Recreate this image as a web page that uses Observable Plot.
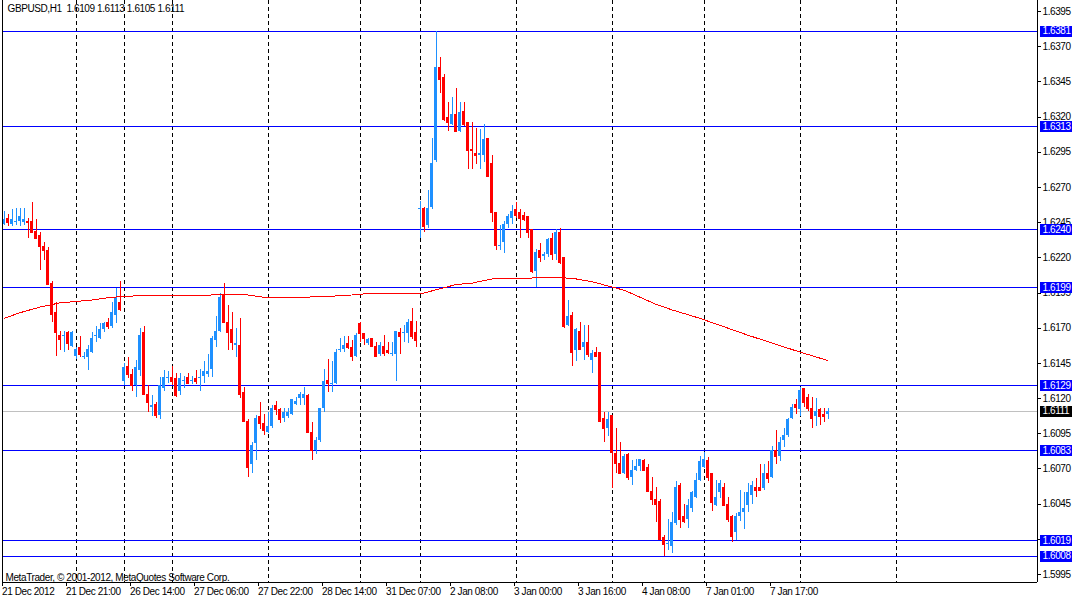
<!DOCTYPE html>
<html><head><meta charset="utf-8">
<script src="https://cdn.jsdelivr.net/npm/d3@7"></script>
<script src="https://cdn.jsdelivr.net/npm/@observablehq/plot@0.6"></script>
<style>
html,body{margin:0;padding:0;background:#fff;}
#chart{width:1075px;height:599px;overflow:hidden;}
</style></head><body><div id="chart"></div>
<script>
const symbolTitle = "GBPUSD,H1";
const opens = [1.6244,1.6248,1.6244,1.6245,1.6246,1.6245,1.6246,1.6246,1.6239,1.6236,
1.6228,1.6225,1.6202,1.6181,1.6165,1.6164,1.6167,1.6157,1.6150,1.6156,
1.6149,1.6149,1.6153,1.6164,1.6163,1.6169,1.6174,1.6171,1.6179,1.6188,
1.6132,1.6143,1.6137,1.6129,1.6140,1.6167,1.6123,1.6114,1.6116,1.6108,
1.6127,1.6134,1.6135,1.6134,1.6125,1.6132,1.6135,1.6132,1.6134,1.6134,
1.6136,1.6137,1.6141,1.6161,1.6168,1.6193,1.6174,1.6169,1.6158,1.6158,
1.6124,1.6104,1.6073,1.6088,1.6107,1.6102,1.6096,1.6100,1.6115,1.6112,
1.6106,1.6107,1.6109,1.6116,1.6120,1.6120,1.6122,1.6096,1.6083,1.6090,
1.6113,1.6133,1.6130,1.6131,1.6154,1.6155,1.6159,1.6156,1.6150,1.6173,
1.6166,1.6159,1.6163,1.6157,1.6151,1.6157,1.6154,1.6151,1.6151,1.6167,
1.6166,1.6166,1.6175,1.6167,1.6254,1.6255,1.6243,1.6256,1.6289,1.6355,
1.6348,1.6320,1.6315,1.6322,1.6310,1.6324,1.6316,1.6297,1.6294,1.6293,
1.6293,1.6305,1.6287,1.6252,1.6228,1.6231,1.6244,1.6248,1.6254,1.6252,
1.6250,1.6249,1.6240,1.6210,1.6225,1.6221,1.6222,1.6234,1.6222,1.6238,
1.6220,1.6172,1.6179,1.6154,1.6168,1.6156,1.6160,1.6147,1.6153,1.6153,
1.6106,1.6099,1.6108,1.6081,1.6074,1.6067,1.6080,1.6064,1.6069,1.6072,
1.6076,1.6071,1.6054,1.6048,1.6047,1.6021,1.6016,1.6015,1.6031,1.6058,
1.6036,1.6034,1.6042,1.6050,1.6062,1.6071,1.6076,1.6067,1.6044,1.6053,
1.6057,1.6045,1.6036,1.6025,1.6036,1.6039,1.6044,1.6051,1.6057,1.6057,
1.6056,1.6067,1.6064,1.6083,1.6079,1.6090,1.6094,1.6106,1.6116,1.6112,
1.6127,1.6121,1.6113,1.6107,1.6112,1.6109,1.6109];
const highs = [1.6253,1.6251,1.6254,1.6255,1.6255,1.6255,1.6248,1.6259,1.6247,1.6238,
1.6231,1.6227,1.6203,1.6188,1.6168,1.6168,1.6168,1.6168,1.6156,1.6164,
1.6153,1.6158,1.6167,1.6171,1.6173,1.6174,1.6177,1.6188,1.6198,1.6203,
1.6145,1.6149,1.6141,1.6147,1.6170,1.6171,1.6129,1.6122,1.6117,1.6135,
1.6140,1.6139,1.6143,1.6138,1.6138,1.6136,1.6138,1.6136,1.6140,1.6141,
1.6146,1.6151,1.6164,1.6178,1.6195,1.6202,1.6186,1.6181,1.6170,1.6177,
1.6128,1.6105,1.6089,1.6108,1.6117,1.6109,1.6110,1.6115,1.6118,1.6113,
1.6113,1.6113,1.6119,1.6121,1.6124,1.6128,1.6123,1.6103,1.6092,1.6113,
1.6141,1.6148,1.6146,1.6155,1.6163,1.6164,1.6164,1.6161,1.6166,1.6174,
1.6166,1.6163,1.6163,1.6160,1.6160,1.6165,1.6160,1.6160,1.6168,1.6170,
1.6172,1.6176,1.6184,1.6175,1.6260,1.6256,1.6268,1.6305,1.6381,1.6362,
1.6350,1.6330,1.6334,1.6340,1.6330,1.6330,1.6316,1.6316,1.6312,1.6311,
1.6315,1.6305,1.6293,1.6252,1.6243,1.6246,1.6251,1.6257,1.6259,1.6254,
1.6252,1.6249,1.6240,1.6226,1.6230,1.6224,1.6234,1.6237,1.6240,1.6241,
1.6220,1.6190,1.6181,1.6170,1.6174,1.6172,1.6172,1.6154,1.6156,1.6153,
1.6110,1.6110,1.6108,1.6099,1.6089,1.6080,1.6081,1.6076,1.6077,1.6077,
1.6077,1.6073,1.6064,1.6057,1.6048,1.6023,1.6034,1.6039,1.6061,1.6060,
1.6045,1.6048,1.6054,1.6067,1.6079,1.6082,1.6078,1.6067,1.6062,1.6062,
1.6060,1.6050,1.6037,1.6038,1.6055,1.6053,1.6060,1.6061,1.6063,1.6073,
1.6073,1.6075,1.6086,1.6097,1.6092,1.6099,1.6106,1.6116,1.6119,1.6128,
1.6127,1.6123,1.6121,1.6120,1.6113,1.6113,1.6113];
const lows = [1.6243,1.6242,1.6242,1.6243,1.6242,1.6243,1.6234,1.6237,1.6233,1.6211,
1.6218,1.6200,1.6174,1.6150,1.6154,1.6153,1.6154,1.6156,1.6148,1.6149,
1.6148,1.6140,1.6152,1.6160,1.6162,1.6167,1.6169,1.6170,1.6173,1.6182,
1.6129,1.6134,1.6125,1.6121,1.6136,1.6122,1.6110,1.6107,1.6106,1.6105,
1.6125,1.6131,1.6129,1.6121,1.6122,1.6127,1.6130,1.6130,1.6130,1.6125,
1.6131,1.6135,1.6135,1.6156,1.6167,1.6173,1.6154,1.6154,1.6149,1.6120,
1.6103,1.6064,1.6067,1.6076,1.6098,1.6094,1.6095,1.6099,1.6108,1.6102,
1.6103,1.6106,1.6108,1.6115,1.6115,1.6115,1.6096,1.6076,1.6080,1.6089,
1.6110,1.6124,1.6124,1.6130,1.6153,1.6153,1.6155,1.6146,1.6149,1.6160,
1.6158,1.6158,1.6156,1.6150,1.6150,1.6150,1.6151,1.6150,1.6132,1.6151,
1.6160,1.6159,1.6162,1.6156,1.6234,1.6238,1.6241,1.6254,1.6288,1.6337,
1.6317,1.6310,1.6314,1.6310,1.6309,1.6313,1.6283,1.6283,1.6286,1.6283,
1.6288,1.6278,1.6245,1.6225,1.6225,1.6223,1.6241,1.6244,1.6248,1.6234,
1.6246,1.6234,1.6209,1.6199,1.6217,1.6218,1.6220,1.6218,1.6218,1.6215,
1.6170,1.6171,1.6143,1.6146,1.6155,1.6147,1.6149,1.6138,1.6150,1.6104,
1.6089,1.6093,1.6056,1.6067,1.6066,1.6066,1.6062,1.6058,1.6068,1.6068,
1.6068,1.6053,1.6044,1.6032,1.6019,1.6008,1.6012,1.6010,1.6030,1.6028,
1.6031,1.6028,1.6039,1.6049,1.6061,1.6070,1.6061,1.6040,1.6043,1.6049,
1.6043,1.6032,1.6018,1.6019,1.6033,1.6027,1.6039,1.6045,1.6050,1.6055,
1.6055,1.6060,1.6063,1.6073,1.6075,1.6085,1.6092,1.6105,1.6109,1.6107,
1.6114,1.6111,1.6099,1.6100,1.6101,1.6103,1.6105];
const closes = [1.6247,1.6245,1.6247,1.6246,1.6249,1.6247,1.6245,1.6238,1.6234,1.6228,
1.6225,1.6201,1.6180,1.6167,1.6162,1.6165,1.6159,1.6167,1.6155,1.6151,
1.6150,1.6155,1.6163,1.6165,1.6169,1.6173,1.6171,1.6181,1.6191,1.6183,
1.6142,1.6137,1.6129,1.6142,1.6165,1.6123,1.6117,1.6115,1.6108,1.6129,
1.6135,1.6135,1.6132,1.6122,1.6134,1.6133,1.6131,1.6133,1.6132,1.6135,
1.6139,1.6139,1.6163,1.6168,1.6192,1.6174,1.6167,1.6160,1.6159,1.6123,
1.6104,1.6071,1.6087,1.6106,1.6102,1.6097,1.6100,1.6113,1.6112,1.6105,
1.6110,1.6110,1.6119,1.6118,1.6123,1.6123,1.6096,1.6083,1.6090,1.6113,
1.6132,1.6131,1.6131,1.6153,1.6155,1.6158,1.6156,1.6150,1.6165,1.6166,
1.6163,1.6162,1.6157,1.6150,1.6158,1.6152,1.6153,1.6152,1.6168,1.6164,
1.6167,1.6174,1.6164,1.6161,1.6255,1.6242,1.6255,1.6287,1.6355,1.6347,
1.6318,1.6316,1.6322,1.6310,1.6323,1.6315,1.6296,1.6296,1.6293,1.6294,
1.6304,1.6278,1.6252,1.6229,1.6229,1.6244,1.6249,1.6253,1.6250,1.6248,
1.6247,1.6238,1.6210,1.6224,1.6220,1.6222,1.6233,1.6222,1.6238,1.6217,
1.6171,1.6178,1.6153,1.6169,1.6155,1.6160,1.6151,1.6152,1.6150,1.6104,
1.6099,1.6105,1.6082,1.6074,1.6067,1.6079,1.6064,1.6069,1.6072,1.6077,
1.6069,1.6054,1.6048,1.6045,1.6020,1.6016,1.6017,1.6032,1.6057,1.6034,
1.6033,1.6044,1.6053,1.6062,1.6075,1.6077,1.6064,1.6046,1.6050,1.6060,
1.6044,1.6034,1.6022,1.6036,1.6039,1.6042,1.6053,1.6058,1.6055,1.6055,
1.6067,1.6063,1.6083,1.6079,1.6089,1.6094,1.6105,1.6114,1.6114,1.6126,
1.6117,1.6113,1.6106,1.6111,1.6107,1.6107,1.6111];

const maIndex = [0,4,9,14,18,22,27,33,41,50,53,60,65,75,84,89,92,100,105,109,113,117,122,128,134,139,143,147,151,155,159,163,167,174,186,199,206];
const maValues = [1.6177,1.6181,1.6185,1.6188,1.6189,1.6190,1.6192,1.6193,1.6193,1.6193,1.6194,1.6194,1.6192,1.6192,1.6193,1.6194,1.6195,1.6195,1.6195,1.6198,1.6201,1.6202,1.6205,1.6205,1.6206,1.6206,1.6205,1.6203,1.6200,1.6197,1.6192,1.6187,1.6183,1.6177,1.6165,1.6153,1.6147];

const separatorIndex = [18,30,42,66,89,104,128,152,175,199,223];
const levelValues = [1.6381,1.6313,1.6240,1.6199,1.6129,1.6083,1.6019,1.6008];
const bidValue = 1.6111;
const priceTicks = [1.5995,1.6020,1.6045,1.6070,1.6095,1.6120,1.6145,1.6170,1.6195,1.6220,1.6245,1.6270,1.6295,1.6320,1.6345,1.6370,1.6395];
const timeTickIndex = [0,16,32,48,64,80,96,112,128,144,160,176,192];
const timeTickLabels = ["21 Dec 2012","21 Dec 21:00","26 Dec 14:00","27 Dec 06:00","27 Dec 22:00","28 Dec 14:00","31 Dec 07:00","2 Jan 08:00","3 Jan 00:00","3 Jan 16:00","4 Jan 08:00","7 Jan 01:00","7 Jan 17:00"];
const copyrightText = "MetaTrader, \u00a9 2001-2012, MetaQuotes Software Corp.";

const FONT = "'Liberation Sans', Arial, sans-serif";
const FS = 10;

// ---- layout (pixels) ----
const W = 1075, H = 599;
const mL = 2, mR = 38, mT = 0, mB = 17;
const barPx = 4;
const pxPerPip = 563 / 400;
const xMin = -1.5 / barPx;
const xMax = xMin + (W - mL - mR) / barPx;
const yTopPrice = 1.6395 + 11 / pxPerPip / 10000;
const yBotPrice = yTopPrice - (H - mT - mB) / pxPerPip / 10000;

const UP = "#1E90FF", DOWN = "#FF0000", LEVEL = "#0000FF";
const candles = opens.map((o, i) => ({i, open: o, high: highs[i], low: lows[i], close: closes[i]}));
const ups = candles.filter(d => d.close >= d.open);
const downs = candles.filter(d => d.close < d.open);
const ma = maIndex.map((i, k) => ({i, v: maValues[k]}));
const last = candles[candles.length - 1];
const header = `${symbolTitle}\u00a0\u00a0${last.open.toFixed(4)} ${last.high.toFixed(4)} ${last.low.toFixed(4)} ${last.close.toFixed(4)}`;
const half = 1.5 / barPx;
const boxX1 = xMax + 3 / barPx, boxX2 = xMax + 35 / barPx;

function candleMarks(data, color) {
  return [
    Plot.ruleX(data, {x: "i", y1: "low", y2: "high", stroke: color}),
    Plot.rect(data, {x1: d => d.i - half, x2: d => d.i + half, y1: "open", y2: "close", fill: color}),
    Plot.ruleY(data, {y: "close", x1: d => d.i - half, x2: d => d.i + half - 0.01, stroke: color})
  ];
}

const chart = Plot.plot({
  width: W, height: H,
  marginLeft: mL, marginRight: mR, marginTop: mT, marginBottom: mB,
  style: {fontFamily: FONT, fontSize: FS + "px", letterSpacing: "-0.4px", background: "#fff", color: "#000", overflow: "visible"},
  x: {type: "linear", domain: [xMin, xMax], axis: null},
  y: {type: "linear", domain: [yBotPrice, yTopPrice], axis: null},
  marks: [
    Plot.ruleX(separatorIndex, {x: d => d, stroke: "#000", strokeDasharray: "4,3"}),
    Plot.ruleY(levelValues, {y: d => d, stroke: LEVEL}),
    Plot.ruleY([bidValue], {y: d => d, stroke: "#C0C0C0"}),
    ...candleMarks(ups, UP),
    ...candleMarks(downs, DOWN),
    Plot.line(ma, {x: "i", y: "v", stroke: "#FF0000", strokeWidth: 1}),
    Plot.ruleX([xMin, xMax], {x: d => d, stroke: "#000"}),
    Plot.ruleY([yBotPrice], {y: d => d, stroke: "#000"}),
    Plot.axisY({anchor: "right", ticks: priceTicks, tickFormat: d => d.toFixed(4), tickSize: 3, tickPadding: 2, textAnchor: "start", fontSize: FS, label: null}),
    Plot.axisX({anchor: "bottom", ticks: timeTickIndex, tickFormat: d => timeTickLabels[timeTickIndex.indexOf(d)], tickSize: 4, tickPadding: 1, textAnchor: "start", dx: -2, fontSize: FS, label: null}),
    Plot.ruleY(levelValues, {y: d => d, x1: boxX1, x2: boxX2, stroke: LEVEL, strokeWidth: 11}),
    Plot.text(levelValues, {y: d => d, x: xMax, text: d => d.toFixed(4), dx: 5, textAnchor: "start", fill: "#fff", fontSize: FS}),
    Plot.ruleY([bidValue], {y: d => d, x1: boxX1, x2: boxX2, stroke: "#000", strokeWidth: 11}),
    Plot.text([bidValue], {y: d => d, x: xMax, text: d => d.toFixed(4), dx: 5, textAnchor: "start", fill: "#fff", fontSize: FS}),
    Plot.text([header], {frameAnchor: "top-left", dx: 5, dy: 4, lineAnchor: "top", textAnchor: "start", fill: "#000", fontSize: FS}),
    Plot.text([copyrightText], {frameAnchor: "bottom-left", dx: 3, dy: -2, lineAnchor: "bottom", textAnchor: "start", fill: "#000", fontSize: FS})
  ]
});
chart.setAttribute("shape-rendering", "crispEdges");
document.getElementById("chart").appendChild(chart);
</script>
</body></html>
